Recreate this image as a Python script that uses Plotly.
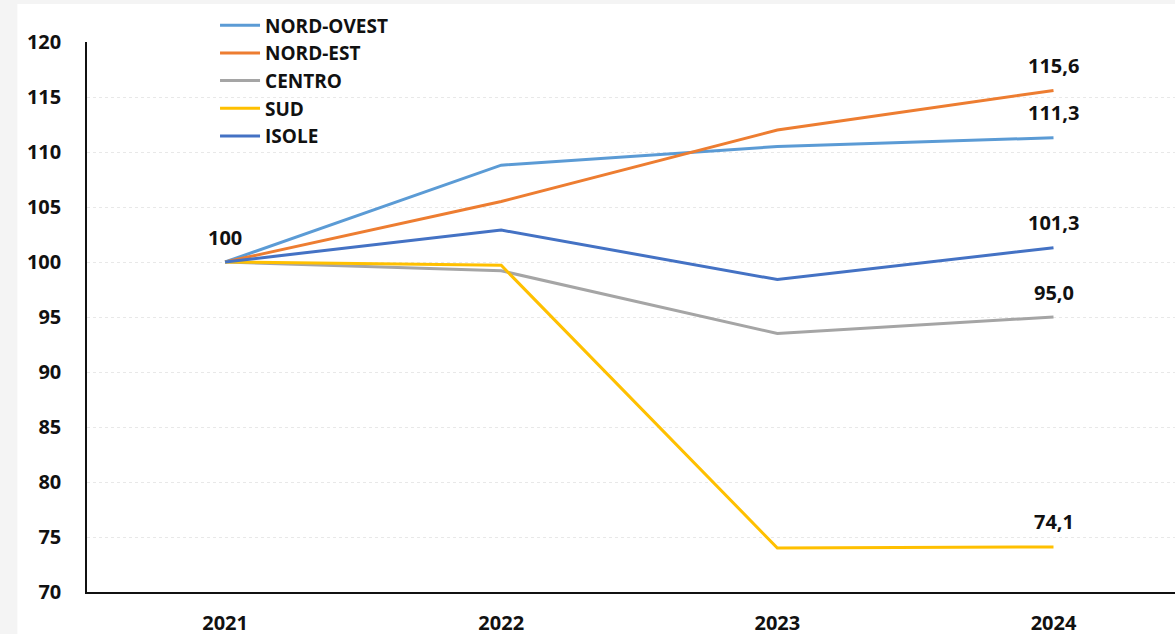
import plotly.graph_objects as go

years = ["2021", "2022", "2023", "2024"]
series_names = ["NORD-OVEST", "NORD-EST", "CENTRO", "SUD", "ISOLE"]
nord_ovest = [100, 108.8, 110.5, 111.3]
nord_est = [100, 105.5, 112.0, 115.6]
centro = [100, 99.2, 93.5, 95.0]
sud = [100, 99.7, 74.0, 74.1]
isole = [100, 102.9, 98.4, 101.3]
colors = ["#5B9BD5", "#ED7D31", "#A5A5A5", "#FFC000", "#4472C4"]
y_ticks = [70, 75, 80, 85, 90, 95, 100, 105, 110, 115, 120]

FONT = "Open Sans"
FS = 20
all_values = [nord_ovest, nord_est, centro, sud, isole]

fig = go.Figure()
for name, vals, col in zip(series_names, all_values, colors):
    fig.add_trace(go.Scatter(x=years, y=vals, name=name, mode="lines",
                             line=dict(color=col, width=3)))

def fmt(v):
    return f"{v:.1f}".replace(".", ",")

lab_font = dict(size=FS, color="#111", family=FONT, weight="bold")
ann = [dict(x=0, y=all_values[0][0], text=str(all_values[0][0]), showarrow=False,
            xref="x", yref="y", yshift=25, font=lab_font)]
for vals in all_values:
    ann.append(dict(x=len(years) - 1, y=vals[-1], text=fmt(vals[-1]), showarrow=False,
                    xref="x", yref="y", yshift=25, font=lab_font))

fig.update_layout(
    width=1175, height=634,
    margin=dict(l=87, r=0, t=42, b=42, autoexpand=False),
    paper_bgcolor="#f4f4f4", plot_bgcolor="white",
    font=dict(family=FONT, size=FS, color="#111"),
    showlegend=True,
    legend=dict(x=0.183, y=0.99, xref="container", yref="container",
                xanchor="left", yanchor="top",
                bgcolor="rgba(0,0,0,0)", font=dict(size=19, family=FONT, weight="bold"),
                itemwidth=40, tracegroupgap=0, traceorder="normal"),
    annotations=ann,
    shapes=[dict(type="rect", xref="paper", yref="paper", x0=-0.064, x1=1.0, y0=-0.08, y1=1.069,
                 fillcolor="white", line=dict(width=0), layer="below")],
    xaxis=dict(type="category", range=[-0.5, 3.44], showgrid=False, showline=True,
               linecolor="#111", linewidth=1.5, ticks="", ticklabelstandoff=12, automargin=False,
               tickfont=dict(size=FS, family=FONT, weight="bold")),
    yaxis=dict(range=[70, 120], tickvals=y_ticks, showline=True, linecolor="#111", linewidth=1.5,
               showgrid=True, gridcolor="#e8e8e8", griddash="dot", gridwidth=1, ticks="",
               ticklabelstandoff=20, zeroline=False, automargin=False,
               tickfont=dict(size=FS, family=FONT, weight="bold")),
)
fig.write_html("out.html", config={"displayModeBar": False},
               post_script="document.body.style.margin='0';document.body.style.overflow='hidden';")
